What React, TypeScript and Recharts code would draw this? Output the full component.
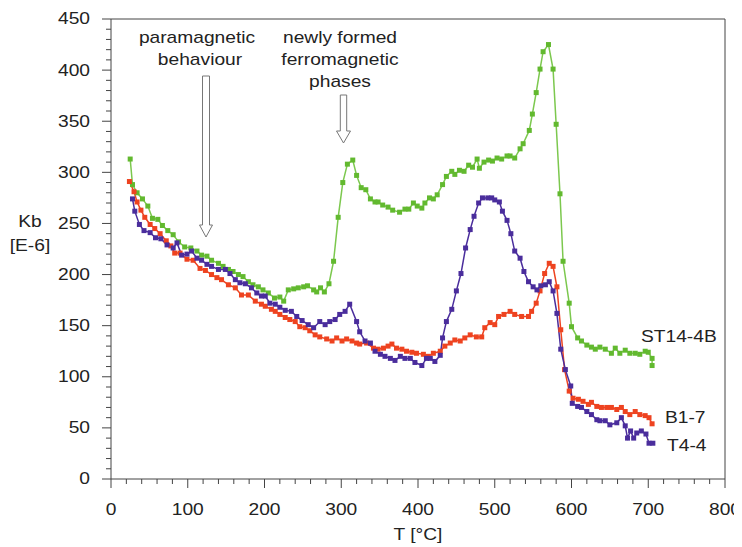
import React from "react";
import { LineChart, Line, XAxis, YAxis, ReferenceLine, Customized } from "recharts";

// ST14-4B (green)
const T_ST = [25,28,34,41,48,54,61,67,74,81,88,96,104,112,118,125,131,140,146,153,159,166,172,179,185,192,198,205,213,220,225,231,238,244,251,256,264,268,273,278,284,290,296,302,308,315,320,326,332,338,344,348,354,361,367,376,383,388,394,399,405,409,415,420,425,432,437,444,448,454,460,466,471,477,480,486,492,497,503,509,516,520,526,533,537,545,549,554,559,563,570,576,580,585,589,597,600,608,613,620,626,631,637,644,652,657,663,670,676,683,689,696,700,705,705];
const K_ST = [313,288,280,274,267,255,254,248,243,239,232,227,226,223,219,218,214,211,208,205,203,200,198,193,190,188,185,182,177,178,174,185,186,187,188,189,185,183,187,183,191,213,256,290,308,312,297,285,283,274,271,271,268,266,263,261,264,264,270,267,265,270,275,274,278,288,296,301,298,302,301,307,305,313,304,310,312,311,314,313,316,316,314,323,328,341,357,378,401,418,425,401,347,279,213,172,149,138,135,131,129,127,129,127,123,128,123,126,123,123,122,125,124,118,111];

// B1-7 (red)
const T_B = [24,30,34,39,44,51,57,64,72,78,83,90,99,107,116,123,131,138,144,153,162,170,179,188,196,201,209,214,220,227,233,240,246,253,259,266,272,281,288,294,301,307,314,320,324,333,342,348,355,361,366,372,379,385,392,398,407,413,420,429,435,442,448,455,461,468,476,483,487,494,500,505,512,520,526,535,544,548,554,559,565,571,576,581,586,591,597,602,609,615,622,626,633,639,646,652,659,665,670,676,683,689,696,701,705];
const K_B = [291,281,271,263,256,249,245,240,233,228,221,221,215,214,206,204,200,197,195,190,187,180,180,174,171,169,166,164,161,158,156,154,149,148,145,141,139,137,135,138,135,137,135,133,132,133,128,127,128,130,132,128,127,125,124,123,122,120,123,125,130,133,136,135,138,141,139,139,148,153,151,159,161,164,161,159,159,164,172,184,201,211,208,188,146,107,86,79,78,76,73,75,71,70,70,70,68,70,66,63,66,63,62,60,54];

// T4-4 (blue)
const T_T = [28,31,37,43,51,58,65,73,81,86,92,99,105,112,118,125,131,140,149,155,162,168,175,183,190,196,201,207,214,220,227,235,242,249,257,264,272,279,285,292,298,305,311,320,324,331,338,344,351,357,364,370,377,383,390,396,405,411,416,422,429,432,437,444,450,456,462,468,473,479,484,491,496,500,506,510,516,521,526,533,538,544,550,555,560,566,571,576,581,586,592,599,601,608,613,620,626,633,637,644,650,659,665,670,673,677,681,685,691,697,701,706];
const K_T = [274,262,249,243,241,236,235,229,226,231,219,220,223,216,214,210,208,205,205,201,195,192,191,187,182,179,179,172,171,168,165,164,159,155,151,148,154,151,154,156,161,164,171,154,144,135,133,125,122,120,118,116,120,118,118,114,111,118,118,115,121,138,154,166,184,201,226,244,257,270,275,275,275,273,271,262,253,240,223,216,203,193,188,185,189,190,193,184,162,127,107,91,74,71,70,66,63,58,57,57,53,55,60,52,40,47,40,45,47,44,35,35];

const X_MAJOR = [0,100,200,300,400,500,600,700,800];
const Y_MAJOR = [0,50,100,150,200,250,300,350,400,450];
const X_TICKS = Array.from({ length: 41 }, (_, i) => i * 20);
const Y_TICKS = Array.from({ length: 46 }, (_, i) => i * 10);

const stData = T_ST.map((t, i) => ({ t, k: K_ST[i] }));
const bData = T_B.map((t, i) => ({ t, k: K_B[i] }));
const tData = T_T.map((t, i) => ({ t, k: K_T[i] }));

const GREEN = "#62b92f";
const GREEN_LINE = "#7cc84e";
const RED = "#ee4320";
const BLUE = "#4a2d9c";
const TXT = "#222";
const AXIS = "#444";
const FONT = "'Liberation Sans', Arial, sans-serif";
const SX = 1.2;

const SText = ({ x, y, anchor = "middle", children }: any) => (
  <text
    transform={`translate(${x},${y}) scale(${SX},1)`}
    textAnchor={anchor}
    dominantBaseline="central"
    fontFamily={FONT}
    fontSize={16}
    fill={TXT}
  >
    {children}
  </text>
);

const YTick = (props: any) => {
  const { x, y, payload } = props;
  const major = Y_MAJOR.includes(payload.value);
  return (
    <g>
      <line x1={x - (major ? 9 : 5)} x2={x} y1={y} y2={y} stroke={AXIS} strokeWidth={1} />
      {major && <SText x={x - 21} y={y} anchor="end">{payload.value}</SText>}
    </g>
  );
};

const XTick = (props: any) => {
  const { x, y, payload } = props;
  const major = X_MAJOR.includes(payload.value);
  return (
    <g>
      <line x1={x} x2={x} y1={y} y2={y + (major ? 9 : 5)} stroke={AXIS} strokeWidth={1} />
      {major && <SText x={x} y={y + 31}>{payload.value}</SText>}
    </g>
  );
};

const makeDot = (color: string) => (p: any) => (
  <rect key={`d-${p.index}`} x={p.cx - 2.5} y={p.cy - 2.5} width={5} height={5} fill={color} />
);

const arrow = (x: number, top: number, headTop: number, tip: number, hw: number, sw: number) => {
  const pts = [
    [x - sw, top], [x + sw, top], [x + sw, headTop], [x + hw, headTop],
    [x, tip], [x - hw, headTop], [x - sw, headTop],
  ].map((p) => p.join(",")).join(" ");
  return <polygon points={pts} fill="#fff" stroke="#777" strokeWidth={1} />;
};

const Annotations = () => (
  <g>
    <SText x={189} y={30}>paramagnetic</SText>
    <SText x={192} y={52}>behaviour</SText>
    <SText x={332} y={30}>newly formed</SText>
    <SText x={332} y={52}>ferromagnetic</SText>
    <SText x={332} y={74}>phases</SText>
    {arrow(198, 68, 217, 229, 6.5, 3.5)}
    {arrow(335.5, 87, 123, 135, 7, 3.2)}
    <SText x={633} y={329} anchor="start">ST14-4B</SText>
    <SText x={657} y={410} anchor="start">B1-7</SText>
    <SText x={659} y={438} anchor="start">T4-4</SText>
    <SText x={22} y={214}>Kb</SText>
    <SText x={22} y={238}>[E-6]</SText>
    <SText x={410} y={527}>T [°C]</SText>
  </g>
);

export default function App() {
  return (
    <LineChart width={734} height={539} margin={{ top: 11, right: 17, bottom: 38, left: 63 }}>
      <XAxis
        type="number"
        dataKey="t"
        domain={[0, 800]}
        ticks={X_TICKS}
        interval={0}
        tickSize={0}
        tickMargin={0}
        tickLine={false}
        axisLine={{ stroke: AXIS, strokeWidth: 1 }}
        tick={<XTick />}
        height={30}
        allowDataOverflow
      />
      <YAxis
        type="number"
        domain={[0, 450]}
        ticks={Y_TICKS}
        interval={0}
        tickSize={0}
        tickMargin={0}
        tickLine={false}
        axisLine={{ stroke: AXIS, strokeWidth: 1 }}
        tick={<YTick />}
        width={40}
        allowDataOverflow
      />
      <ReferenceLine y={450} stroke={AXIS} strokeWidth={1} ifOverflow="visible" />
      <ReferenceLine x={800} stroke={AXIS} strokeWidth={1} ifOverflow="visible" />
      <Line data={stData} dataKey="k" type="linear" stroke={GREEN_LINE} strokeWidth={1.5} dot={makeDot(GREEN)} isAnimationActive={false} />
      <Line data={bData} dataKey="k" type="linear" stroke={RED} strokeWidth={1.5} dot={makeDot(RED)} isAnimationActive={false} />
      <Line data={tData} dataKey="k" type="linear" stroke={BLUE} strokeWidth={1.5} dot={makeDot(BLUE)} isAnimationActive={false} />
      <Customized component={Annotations} />
    </LineChart>
  );
}
